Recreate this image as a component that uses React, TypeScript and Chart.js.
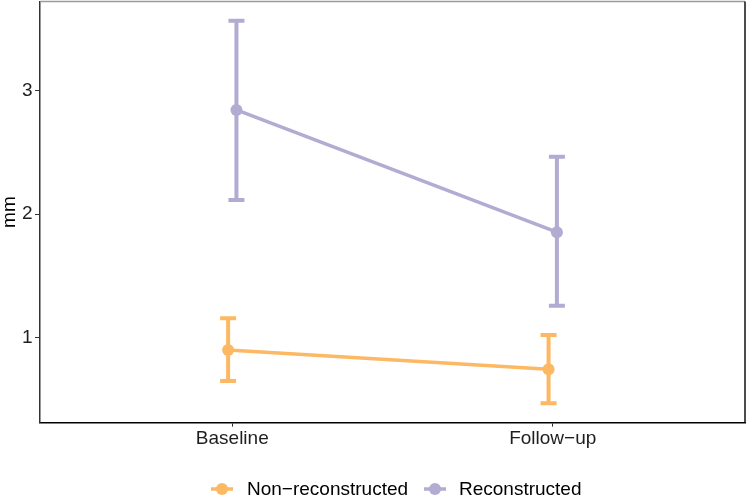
import React, { useEffect, useRef } from "react";
import { Chart, registerables } from "chart.js";

Chart.register(...registerables);

const categories = ["Baseline", "Follow\u2212up"];
const seriesNames = ["Non\u2212reconstructed", "Reconstructed"];
const seriesColors = ["#FDB863", "#B2ABD2"];
const nonRecMean = [0.9, 0.744];
const nonRecLower = [0.649, 0.469];
const nonRecUpper = [1.157, 1.022];
const recMean = [2.844, 1.854];
const recLower = [2.115, 1.258];
const recUpper = [3.567, 2.466];
const yTicks = [1, 2, 3];
const dodge = 0.013;

const FONT = "'Liberation Sans', Arial, sans-serif";
const TICK_COLOR = "#1e1e1e";

const lowers = [nonRecLower, recLower];
const uppers = [nonRecUpper, recUpper];
const offsets = [-dodge, dodge];

const errorBarPlugin = {
  id: "errorBars",
  beforeDatasetsDraw(chart: any) {
    const ctx = chart.ctx;
    const xs = chart.scales.x;
    const ys = chart.scales.y;
    ctx.save();
    for (let d = 0; d < 2; d++) {
      ctx.strokeStyle = seriesColors[d];
      ctx.lineWidth = 4;
      ctx.lineCap = "butt";
      for (let i = 0; i < categories.length; i++) {
        const px = xs.getPixelForValue(i + 1 + offsets[d]);
        const lo = ys.getPixelForValue(lowers[d][i]);
        const hi = ys.getPixelForValue(uppers[d][i]);
        ctx.beginPath();
        ctx.moveTo(px, lo);
        ctx.lineTo(px, hi);
        ctx.moveTo(px - 8, lo);
        ctx.lineTo(px + 8, lo);
        ctx.moveTo(px - 8, hi);
        ctx.lineTo(px + 8, hi);
        ctx.stroke();
      }
    }
    ctx.restore();
  },
  afterDraw(chart: any) {
    const ctx = chart.ctx;
    const a = chart.chartArea;
    ctx.save();
    // panel frame (top and right)
    ctx.strokeStyle = "#9a9a9a";
    ctx.lineWidth = 1.5;
    ctx.beginPath();
    ctx.moveTo(a.left, a.top);
    ctx.lineTo(a.right, a.top);
    ctx.stroke();
    ctx.strokeStyle = "#111";
    ctx.lineWidth = 1.5;
    ctx.beginPath();
    ctx.moveTo(a.right, a.top);
    ctx.lineTo(a.right, a.bottom);
    ctx.stroke();
    // legend
    const ly = 489;
    const items = [
      { cx: 222, tx: 247 },
      { cx: 435, tx: 459 },
    ];
    ctx.font = `19px ${FONT}`;
    ctx.textBaseline = "middle";
    ctx.textAlign = "left";
    for (let d = 0; d < 2; d++) {
      const it = items[d];
      ctx.strokeStyle = seriesColors[d];
      ctx.fillStyle = seriesColors[d];
      ctx.lineWidth = 3.5;
      ctx.beginPath();
      ctx.moveTo(it.cx - 11, ly);
      ctx.lineTo(it.cx + 11, ly);
      ctx.stroke();
      ctx.beginPath();
      ctx.arc(it.cx, ly, 6, 0, Math.PI * 2);
      ctx.fill();
      ctx.fillStyle = "#000";
      ctx.fillText(seriesNames[d], it.tx, ly + 1);
    }
    ctx.restore();
  },
};

export default function App() {
  const ref = useRef<HTMLCanvasElement>(null);
  useEffect(() => {
    document.body.style.margin = "0";
    const means = [nonRecMean, recMean];
    const chart = new Chart(ref.current as HTMLCanvasElement, {
      type: "line",
      data: {
        datasets: seriesNames.map((name, d) => ({
          label: name,
          data: categories.map((_, i) => ({ x: i + 1 + offsets[d], y: means[d][i] })),
          borderColor: seriesColors[d],
          backgroundColor: seriesColors[d],
          borderWidth: 3.5,
          pointRadius: 6,
          pointBorderWidth: 0,
          pointHoverRadius: 6,
          fill: false,
          tension: 0,
        })),
      },
      options: {
        animation: false,
        responsive: false,
        devicePixelRatio: 1,
        layout: { autoPadding: false, padding: { left: 0, top: 1.5, right: 3, bottom: 0 } },
        plugins: { legend: { display: false }, tooltip: { enabled: false } },
        scales: {
          x: {
            type: "linear",
            min: 0.4,
            max: 2.6,
            afterBuildTicks: (s: any) => {
              s.ticks = categories.map((_, i) => ({ value: i + 1 }));
            },
            afterFit: (s: any) => {
              s.height = 77.3;
              s.paddingLeft = 0;
              s.paddingRight = 0;
            },
            ticks: {
              callback: (v: any) => categories[Number(v) - 1] ?? "",
              color: TICK_COLOR,
              font: { family: FONT, size: 19 },
              padding: 1,
              maxRotation: 0,
              autoSkip: false,
            },
            grid: { drawOnChartArea: false, drawTicks: true, tickLength: 4, color: "#333", lineWidth: 1 },
            border: { display: true, color: "#000", width: 1.5 },
          },
          y: {
            type: "linear",
            min: 0.312,
            max: 3.722,
            afterBuildTicks: (s: any) => {
              s.ticks = yTicks.map((v) => ({ value: v }));
            },
            afterFit: (s: any) => {
              s.width = 40;
              s.paddingTop = 0;
              s.paddingBottom = 0;
            },
            ticks: {
              color: TICK_COLOR,
              font: { family: FONT, size: 19 },
              padding: 2.5,
            },
            grid: { drawOnChartArea: false, drawTicks: true, tickLength: 5, color: "#333", lineWidth: 1 },
            border: { display: true, color: "#333", width: 1.5 },
            title: {
              display: true,
              text: "mm",
              color: "#000",
              font: { family: FONT, size: 19, lineHeight: 1 },
              padding: 0,
            },
          },
        },
      },
      plugins: [errorBarPlugin],
    });
    return () => chart.destroy();
  }, []);
  return (
    <div style={{ width: 748, height: 500 }}>
      <canvas ref={ref} width={748} height={500} />
    </div>
  );
}
